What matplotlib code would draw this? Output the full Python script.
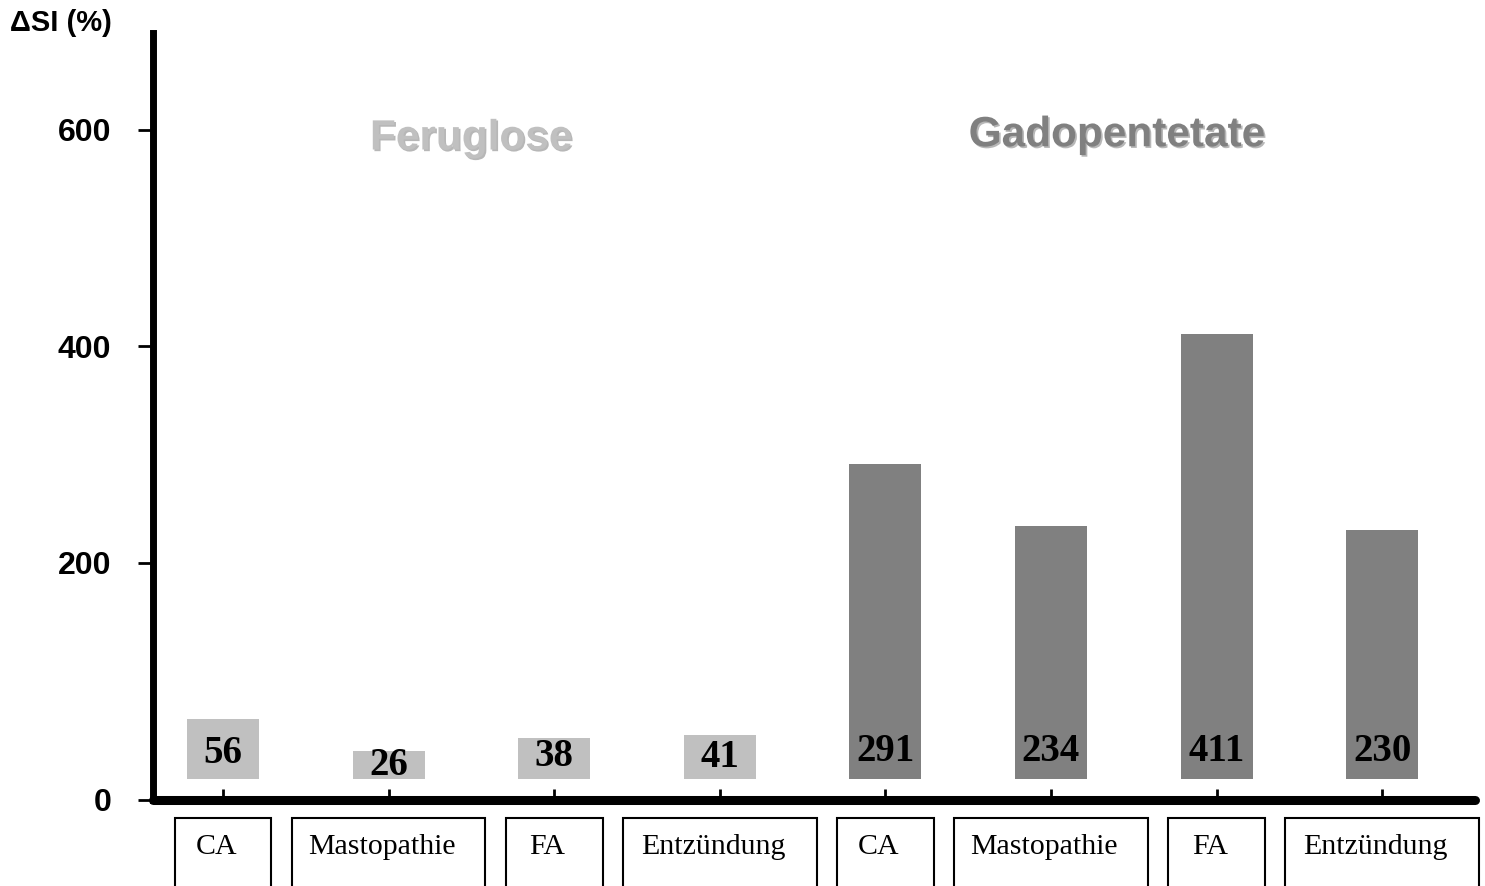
import matplotlib.pyplot as plt
import matplotlib.patheffects as pe
from matplotlib.patches import Rectangle
import matplotlib.transforms as mtransforms

# data
categories = ['CA', 'Mastopathie', 'FA', 'Entzündung',
              'CA', 'Mastopathie', 'FA', 'Entzündung']
values = [56, 26, 38, 41, 291, 234, 411, 230]
groups = ['Feruglose'] * 4 + ['Gadopentetate'] * 4
group_colors = {'Feruglose': '#c0c0c0', 'Gadopentetate': '#808080'}
ytick_vals = [-19, 200, 400, 600]
ytick_labels = ['0', '200', '400', '600']

# where the numbers sit inside the bars (data units)
label_y = [24, 13, 21, 20, 26, 26, 26, 26]

fig = plt.figure(figsize=(14.85, 8.86), dpi=100)
ax = fig.add_axes([0.1030, 0.0971, 0.8902, 0.8657])

x = list(range(len(values)))
colors = [group_colors[g] for g in groups]
ax.bar(x, values, width=0.435, color=colors, edgecolor='none')

for xi, v, ly in zip(x, values, label_y):
    ax.text(xi, ly, str(v), ha='center', va='center', fontsize=28,
            fontweight='bold', family='Liberation Serif', color='black')

ax.set_xlim(-0.423, 7.56)
ax.set_ylim(-19, 689.5)

for s in ['top', 'right']:
    ax.spines[s].set_visible(False)
ax.spines['left'].set_linewidth(5)
ax.spines['bottom'].set_linewidth(6.5)
ax.spines['bottom'].set_capstyle('round')

ax.set_yticks(ytick_vals)
ax.set_yticklabels(ytick_labels, fontsize=23, fontweight='bold',
                   family='Liberation Sans')
ax.tick_params(axis='y', direction='out', length=11, width=2, pad=19)
ax.set_xticks(x)
ax.set_xticklabels([])
ax.tick_params(axis='x', direction='in', length=8, width=2)

# group titles with shadow
shadow = [pe.withSimplePatchShadow(offset=(1.2, -1.2), shadow_rgbFace='#707070', alpha=0.5)]
ax.text(1.5, 592, 'Feruglose', ha='center', va='center', fontsize=30.5,
        fontweight='bold', family='Liberation Sans', color='#c0c0c0',
        path_effects=shadow)
ax.text(5.4, 595, 'Gadopentetate', ha='center', va='center', fontsize=30.5,
        fontweight='bold', family='Liberation Sans', color='#808080',
        path_effects=shadow)

# category boxes under the axis
trans = mtransforms.blended_transform_factory(ax.transData, fig.transFigure)
for xi, cat in zip(x, categories):
    w = 1.17 if len(cat) > 2 else 0.585
    rect = Rectangle((xi - w / 2, -0.05), w, 0.127, transform=trans,
                     fill=False, edgecolor='black', linewidth=1.5, clip_on=False)
    fig.add_artist(rect)
    fig.text(xi - 0.04, 0.044, cat, transform=trans, ha='center', va='center',
             fontsize=21.5, family='Liberation Serif')

fig.text(0.007, 0.974, 'ΔSI (%)', ha='left', va='center', fontsize=21,
         fontweight='bold', family='Liberation Sans')

fig.savefig('out.png', dpi=100)
